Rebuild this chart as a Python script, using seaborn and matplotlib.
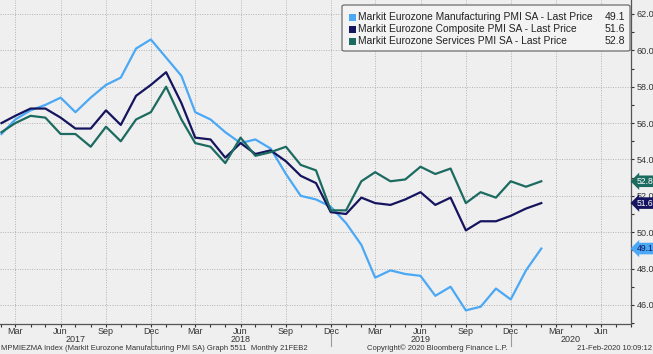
"""
Markit Eurozone PMIs, Bloomberg-style line chart
"""
import datetime
import matplotlib.pyplot as plt
import matplotlib.dates as mdates
import matplotlib.transforms as mtrans
from matplotlib.patches import FancyBboxPatch, Rectangle
from matplotlib.lines import Line2D
import pandas as pd
import seaborn as sns

months = pd.date_range('2017-02-01', '2020-02-01', freq='MS')
manufacturing = [55.4, 56.2, 56.7, 57.0, 57.4, 56.6, 57.4, 58.1, 58.5, 60.1, 60.6,
                 59.6, 58.6, 56.6, 56.2, 55.5, 54.9, 55.1, 54.6, 53.2, 52.0, 51.8, 51.4,
                 50.5, 49.3, 47.5, 47.9, 47.7, 47.6, 46.5, 47.0, 45.7, 45.9, 46.9, 46.3,
                 47.9, 49.1]
composite = [56.0, 56.4, 56.8, 56.8, 56.3, 55.7, 55.7, 56.7, 55.9, 57.5, 58.1,
             58.8, 57.1, 55.2, 55.1, 54.1, 54.9, 54.3, 54.5, 53.9, 53.1, 52.7, 51.1,
             51.0, 51.9, 51.6, 51.5, 51.8, 52.2, 51.5, 51.9, 50.1, 50.6, 50.6, 50.9,
             51.3, 51.6]
services = [55.5, 56.0, 56.4, 56.3, 55.4, 55.4, 54.7, 55.8, 55.0, 56.2, 56.6,
            58.0, 56.2, 54.9, 54.7, 53.8, 55.2, 54.2, 54.4, 54.7, 53.7, 53.4, 51.2,
            51.2, 52.8, 53.3, 52.8, 52.9, 53.6, 53.2, 53.5, 51.6, 52.2, 51.9, 52.8,
            52.5, 52.8]

names = ['Markit Eurozone Manufacturing PMI SA - Last Price',
         'Markit Eurozone Composite PMI SA - Last Price',
         'Markit Eurozone Services PMI SA - Last Price']
colors = ['#4aa8f5', '#15145e', '#1c6b60']
tag_text = ['#15145e', 'white', 'white']

df = pd.DataFrame({'date': months, names[0]: manufacturing,
                   names[1]: composite, names[2]: services})
long = df.melt(id_vars='date', var_name='series', value_name='value')

bg = '#efefef'
W, H = 653, 354
plt.rcParams['font.family'] = ['Liberation Sans', 'DejaVu Sans']
fig = plt.figure(figsize=(W / 100, H / 100), dpi=100, facecolor=bg)
ax = fig.add_axes([0, 1 - 324 / H, 631 / W, 324 / H])
ax.set_facecolor(bg)

sns.lineplot(data=long, x='date', y='value', hue='series', hue_order=names,
             palette=dict(zip(names, colors)), linewidth=1.6, legend=False, ax=ax)

x0 = datetime.date(2017, 1, 29)
x1 = datetime.date(2020, 8, 1)
ax.set_xlim(x0, x1)
ax.set_ylim(44.95, 62.77)
ax.set_xlabel('')
ax.set_ylabel('')

# axes / ticks
for s in ['left', 'top']:
    ax.spines[s].set_visible(False)
for s in ['right', 'bottom']:
    ax.spines[s].set_color('#555555')
    ax.spines[s].set_linewidth(0.9)
ax.yaxis.tick_right()
ax.set_yticks([46, 48, 50, 52, 54, 56, 58, 60, 62])
ax.set_yticks([45, 47, 49, 51, 53, 55, 57, 59, 61], minor=True)
ax.yaxis.set_major_formatter(plt.FuncFormatter(lambda v, p: f'{v:.1f}'))
ax.xaxis.set_major_locator(mdates.MonthLocator(bymonth=[3, 6, 9, 12]))
ax.xaxis.set_minor_locator(mdates.MonthLocator())
ax.xaxis.set_major_formatter(mdates.DateFormatter('%b'))
ax.tick_params(axis='both', which='major', labelsize=6.5, colors='#333333',
               length=2.5, width=0.8)
ax.tick_params(axis='x', which='major', pad=-0.5)
ax.tick_params(axis='y', which='major', pad=1.5)
ax.tick_params(axis='both', which='minor', length=2, width=0.8, color='#333333')
ax.grid(True, which='major', color='#b3b3b3', linestyle=(0, (1, 1.5)), linewidth=0.7)

# year labels and separators
blend = mtrans.blended_transform_factory(ax.transData, fig.transFigure)
bounds = [x0, datetime.date(2017, 12, 1), datetime.date(2018, 12, 1),
          datetime.date(2019, 12, 1), x1]
years = ['2017', '2018', '2019', '2020']
for i, yr in enumerate(years):
    a = mdates.date2num(bounds[i])
    b = mdates.date2num(bounds[i + 1])
    fig.text((a + b) / 2, 1 - 339.5 / H, yr, transform=blend, ha='center',
             va='center', fontsize=6.5, color='#333333')
for d in bounds[1:4]:
    xd = mdates.date2num(d)
    fig.add_artist(Line2D([xd, xd], [1 - 334 / H, 1 - 346 / H], transform=blend,
                          color='#9a9a9a', linewidth=0.8))

# last value tags on the right axis
tblend = mtrans.blended_transform_factory(ax.transAxes, ax.transData)
for vals, c, tc in zip([manufacturing, composite, services], colors, tag_text):
    ax.text(1.009, vals[-1], f'{vals[-1]:.1f}', transform=tblend, ha='left',
            va='center', fontsize=6.2, color=tc, clip_on=False, zorder=5,
            bbox=dict(boxstyle='larrow,pad=0.15', fc=c, ec='none'))

# legend box
fig.add_artist(FancyBboxPatch((342 / W, 1 - 51 / H), 288 / W, 46 / H,
                              boxstyle='round,pad=0,rounding_size=0.004',
                              transform=fig.transFigure, fc='#f3f3f3',
                              ec='#6e6e6e', lw=0.9))
rows = [17, 29.3, 41]
last = [manufacturing[-1], composite[-1], services[-1]]
for r, n, c, v in zip(rows, names, colors, last):
    fig.add_artist(Rectangle((349 / W, 1 - (r + 3.5) / H), 7 / W, 7 / H,
                             transform=fig.transFigure, fc=c, ec='none'))
    fig.text(358 / W, 1 - r / H, n, ha='left', va='center', fontsize=7.4,
             color='#222222')
    fig.text(625 / W, 1 - r / H, f'{v:.1f}', ha='right', va='center',
             fontsize=7.6, color='#222222')

# footer
fig.text(1 / W, 1 - 348.5 / H,
         'MPMIEZMA Index (Markit Eurozone Manufacturing PMI SA) Graph 5511  Monthly 21FEB2',
         ha='left', va='center', fontsize=5.5, color='#333333')
fig.text(437 / W, 1 - 348.5 / H, 'Copyright\u00a9 2020 Bloomberg Finance L.P.',
         ha='center', va='center', fontsize=5.5, color='#333333')
fig.text(652 / W, 1 - 348.5 / H, '21-Feb-2020 10:09:12', ha='right', va='center',
         fontsize=5.5, color='#333333')

fig.savefig('out.png', dpi=100, facecolor=bg)
